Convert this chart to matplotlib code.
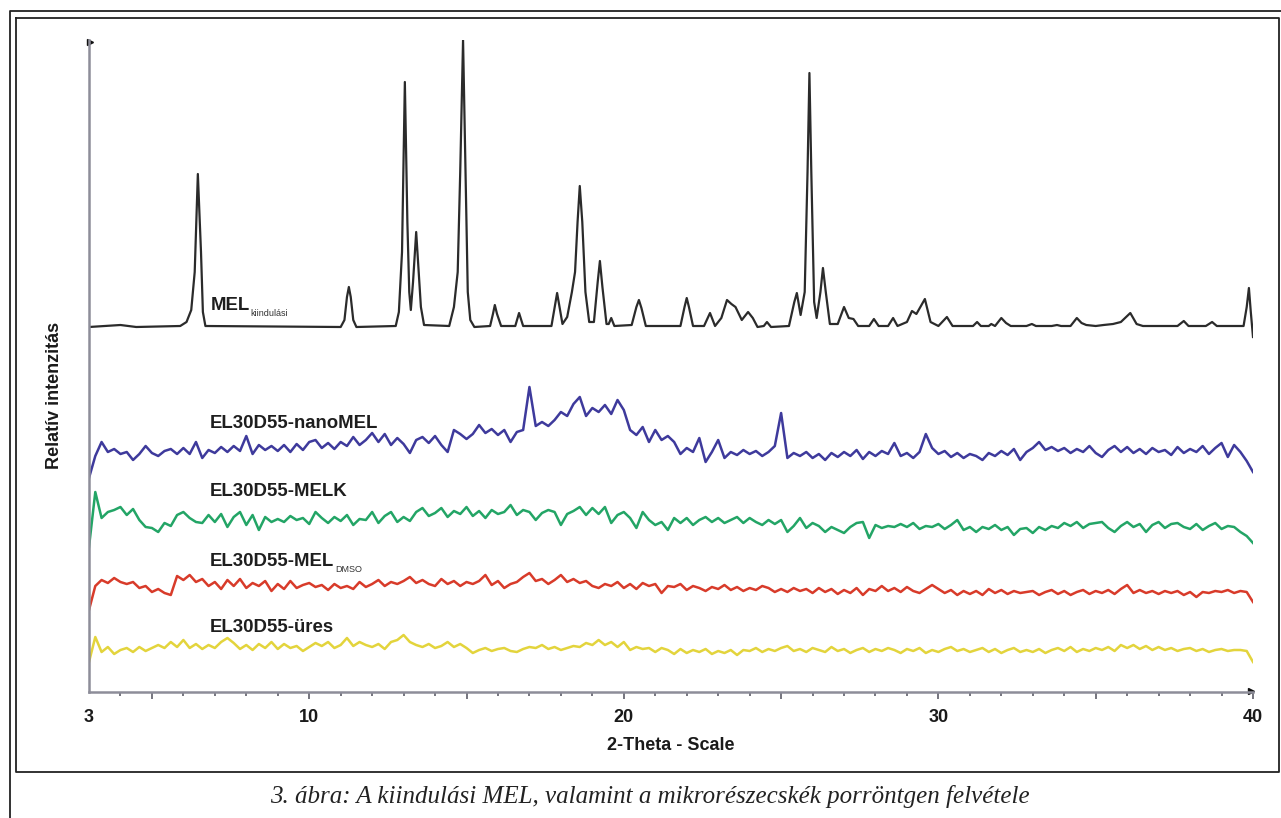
import numpy as np
import matplotlib
matplotlib.use("Agg")
import matplotlib.pyplot as plt
from matplotlib.lines import Line2D

# ---------------- data ----------------
# MEL (kiindulási) pattern: break points (2-theta, intensity)
mel_x = [3.0, 4.0, 4.5, 5.9, 6.1, 6.25, 6.36, 6.46, 6.56, 6.62, 6.7, 11.0, 11.12, 11.2, 11.26,
         11.32, 11.4, 11.5,
         12.75, 12.85, 12.95, 13.04, 13.12, 13.18, 13.23, 13.30, 13.40, 13.48, 13.55, 13.65,
         14.45, 14.6, 14.72, 14.8, 14.89, 14.97, 15.04, 15.12, 15.25, 15.75, 15.84, 15.9, 15.97,
         16.1, 16.55, 16.67, 16.8, 17.7, 17.82, 17.88, 17.95, 18.05,
         18.2, 18.35, 18.45, 18.53, 18.6, 18.68, 18.78, 18.9, 19.05, 19.17, 19.24, 19.32, 19.45,
         19.52, 19.6, 19.7, 20.25, 20.4,
         20.48, 20.56, 20.7, 21.8, 21.93, 22.0, 22.07, 22.2, 22.55, 22.74, 22.9, 23.1, 23.28, 23.42,
         23.55, 23.75, 23.95, 24.1, 24.25, 24.45, 24.55, 24.68, 25.25, 25.42, 25.5, 25.62, 25.75,
         25.84, 25.9, 25.96, 26.05, 26.13, 26.25,
         26.33, 26.42, 26.55, 26.8, 27.0, 27.15, 27.3, 27.45, 27.8, 27.95, 28.1, 28.4, 28.56, 28.7,
         29.0, 29.16, 29.3, 29.57, 29.75, 30.0, 30.27, 30.45, 31.1, 31.23, 31.35, 31.6, 31.68,
         31.8, 32.0, 32.15, 32.3, 32.8, 32.97, 33.1, 33.6, 33.77, 33.9, 34.2, 34.4, 34.55, 34.7,
         35.0, 35.25, 35.55, 35.8, 36.1, 36.3, 36.5, 37.6, 37.8, 37.95, 38.5, 38.7, 38.85, 39.7,
         39.8, 39.87, 39.93, 40.0]
mel_y = [365, 367, 365, 366, 370, 382, 420, 518, 440, 380, 366, 365, 372, 395, 405,
         395, 372, 365,
         366, 380, 440, 610, 470, 400, 382, 410, 460, 420, 385, 367,
         366, 385, 420, 520, 652, 520, 400, 372, 365, 366, 378, 387, 378,
         366, 366, 379, 366, 366, 388, 399, 386, 368,
         375, 400, 420, 470, 506, 470, 400, 370, 370, 410, 431, 405, 368,
         368, 374, 366, 367, 385,
         392, 384, 366, 366, 385, 394, 385, 366, 366, 379, 366, 374, 392, 388,
         385, 372, 380, 374, 365, 366, 370, 365, 366, 390, 399, 377, 400,
         520, 619, 520, 390, 374, 400,
         424, 400, 368, 368, 385, 374, 373, 366, 366, 373, 366, 366, 374, 366,
         370, 381, 378, 393, 370, 366, 375, 366, 366, 370, 366, 366, 368,
         366, 374, 369, 366, 366, 368, 366, 366, 367, 366, 366, 374, 369, 367,
         366, 367, 368, 370, 379, 368, 366, 366, 371, 366, 366, 370, 366, 366,
         385, 404, 380, 355]

# Noisy traces, sampled every 0.2 degree from 3.0 to 40.0
nano_mel = [214, 236, 250, 240, 243, 238, 240, 232, 238, 246,
            239, 236, 241, 243, 238, 244, 238, 250, 234, 242,
            239, 245, 240, 246, 241, 256, 238, 247, 242, 246,
            241, 247, 240, 248, 242, 250, 252, 244, 249, 243,
            250, 246, 255, 247, 252, 259, 250, 258, 247, 254,
            248, 239, 252, 255, 249, 256, 247, 240, 262, 258,
            253, 258, 267, 259, 263, 257, 262, 250, 260, 262,
            305, 266, 270, 266, 272, 280, 276, 288, 295, 276,
            284, 280, 287, 278, 292, 282, 262, 257, 265, 250,
            262, 252, 256, 250, 238, 244, 240, 254, 230, 240,
            252, 234, 240, 237, 242, 238, 241, 236, 240, 246,
            279, 234, 239, 236, 240, 234, 238, 232, 239, 235,
            240, 236, 242, 233, 240, 236, 241, 238, 249, 236,
            239, 234, 240, 258, 244, 238, 241, 235, 239, 234,
            238, 236, 232, 239, 236, 241, 237, 243, 232, 240,
            244, 250, 242, 245, 241, 244, 239, 243, 240, 246,
            239, 235, 242, 246, 240, 245, 239, 243, 238, 244,
            240, 242, 237, 245, 239, 243, 240, 246, 238, 244,
            249, 235, 247, 240, 231, 220]

melk = [145, 200, 174, 180, 182, 185, 177, 183, 172, 165,
        164, 160, 169, 166, 177, 180, 174, 170, 169, 177,
        170, 178, 165, 175, 180, 167, 177, 162, 175, 170,
        173, 170, 176, 172, 174, 168, 180, 174, 169, 175,
        171, 177, 167, 173, 172, 180, 169, 176, 180, 170,
        175, 171, 180, 184, 176, 179, 184, 175, 181, 178,
        185, 176, 181, 174, 182, 178, 180, 187, 177, 182,
        180, 172, 179, 182, 180, 167, 178, 181, 185, 177,
        184, 178, 185, 169, 177, 180, 174, 164, 180, 172,
        167, 170, 162, 174, 169, 174, 167, 172, 175, 170,
        174, 169, 172, 175, 169, 174, 170, 167, 172, 168,
        172, 160, 166, 174, 164, 169, 166, 160, 165, 162,
        159, 165, 169, 170, 154, 167, 164, 166, 165, 168,
        165, 169, 163, 166, 165, 168, 163, 167, 172, 162,
        165, 160, 165, 163, 167, 162, 165, 157, 163, 164,
        159, 165, 162, 166, 164, 169, 166, 170, 164, 168,
        169, 170, 164, 160, 166, 170, 165, 168, 160, 167,
        170, 164, 168, 169, 165, 163, 168, 162, 166, 169,
        163, 166, 165, 160, 156, 149]

mel_dmso = [82, 106, 112, 109, 114, 110, 108, 110, 104, 106,
            100, 103, 99, 97, 116, 112, 117, 110, 113, 106,
            110, 103, 112, 106, 113, 104, 109, 106, 111, 101,
            108, 103, 111, 104, 107, 109, 105, 107, 102, 108,
            104, 106, 103, 110, 105, 108, 112, 106, 110, 108,
            111, 115, 109, 112, 108, 106, 113, 108, 111, 106,
            110, 108, 111, 117, 107, 111, 104, 108, 110, 115,
            119, 111, 113, 108, 112, 117, 110, 113, 109, 111,
            106, 104, 108, 106, 110, 104, 108, 103, 109, 106,
            108, 99, 106, 105, 108, 102, 106, 104, 101, 105,
            103, 107, 102, 105, 101, 104, 102, 106, 104, 100,
            103, 100, 104, 101, 103, 99, 104, 100, 103, 98,
            102, 99, 104, 97, 103, 101, 106, 101, 104, 100,
            105, 101, 99, 103, 107, 103, 99, 102, 97, 101,
            98, 101, 97, 103, 99, 102, 98, 101, 99, 100,
            101, 97, 100, 102, 98, 101, 97, 100, 102, 98,
            101, 99, 102, 98, 103, 107, 99, 102, 99, 101,
            98, 101, 99, 101, 97, 100, 95, 100, 99, 101,
            100, 102, 99, 101, 100, 90]

ures = [30, 55, 40, 45, 38, 42, 44, 40, 45, 41,
        44, 47, 44, 50, 45, 52, 44, 48, 43, 47,
        44, 50, 54, 49, 43, 47, 42, 48, 44, 50,
        43, 48, 44, 46, 41, 45, 49, 46, 50, 44,
        47, 54, 46, 50, 47, 45, 48, 43, 50, 52,
        57, 50, 47, 45, 48, 44, 46, 50, 45, 48,
        44, 39, 42, 44, 41, 43, 44, 41, 40, 43,
        45, 44, 47, 43, 45, 42, 44, 46, 45, 49,
        47, 52, 47, 50, 45, 50, 42, 45, 43, 44,
        40, 44, 42, 38, 43, 39, 42, 40, 43, 38,
        41, 39, 42, 37, 42, 41, 44, 40, 43, 41,
        44, 46, 41, 43, 40, 44, 42, 40, 45, 41,
        43, 39, 42, 44, 40, 43, 41, 44, 42, 39,
        43, 41, 44, 39, 42, 40, 43, 45, 41, 43,
        40, 42, 44, 40, 43, 39, 42, 44, 40, 42,
        40, 43, 39, 42, 44, 41, 45, 40, 43, 41,
        44, 42, 45, 41, 47, 44, 47, 43, 46, 42,
        45, 42, 44, 41, 43, 44, 41, 43, 40, 42,
        43, 41, 42, 42, 41, 30]

x_labels = ["3", "10", "20", "30", "40"]
x_label_pos = [3, 10, 20, 30, 40]

# ---------------- figure ----------------
W, H = 1281, 818
fig = plt.figure(figsize=(W / 100, H / 100), dpi=100)
fig.patch.set_facecolor("white")

def fx(px):
    return px / W

def fy(py):
    return 1 - py / H

ax = fig.add_axes([fx(89), fy(692), fx(1253) - fx(89), fy(40) - fy(692)])
ax.set_xlim(3, 40)
ax.set_ylim(0, 652)

lw = 1.8
ax.plot(mel_x, mel_y, color="#2b2b2b", lw=1.6, solid_joinstyle="round")
ax.plot(np.linspace(3, 40, len(nano_mel)), nano_mel, color="#3e3a9c", lw=lw)
ax.plot(np.linspace(3, 40, len(melk)), melk, color="#23a566", lw=lw)
ax.plot(np.linspace(3, 40, len(mel_dmso)), mel_dmso, color="#d83b2a", lw=lw)
ax.plot(np.linspace(3, 40, len(ures)), ures, color="#e3d43c", lw=lw)

for s in ["top", "right"]:
    ax.spines[s].set_visible(False)
axis_col = "#8d8d99"
for s in ["left", "bottom"]:
    ax.spines[s].set_color(axis_col)
    ax.spines[s].set_linewidth(1.8)

ax.set_yticks([])
ax.set_xticks(range(5, 41, 5))
ax.set_xticks(range(4, 40), minor=True)
ax.set_xticklabels([])
ax.tick_params(axis="x", which="major", direction="out", length=5, width=1.3, color="#6a6a74")
ax.tick_params(axis="x", which="minor", direction="out", length=3, width=1.3, color="#6a6a74")

tf = ax.get_xaxis_transform()
for lab, pos in zip(x_labels, x_label_pos):
    ax.text(pos, -26 / 652, lab, transform=tf, ha="center", va="center",
            fontsize=13, fontweight="bold", family="Liberation Sans", color="#1a1a1a")

# axis arrow heads
ax.plot([3.02], [650], marker=">", markersize=4, color="#111111", clip_on=False)
ax.plot([39.95], [1.5], marker=">", markersize=4, color="#111111", clip_on=False)

# trace labels
lab_kw = dict(fontsize=13.4, fontweight="bold", family="Liberation Sans", color="#1e1e1e",
              ha="left", va="center")
t_mel = ax.text(6.88, 387, "MEL", **lab_kw)
ax.text(6.85, 269, "EL30D55-nanoMEL", **lab_kw)
ax.text(6.85, 201, "EL30D55-MELK", **lab_kw)
t_dmso = ax.text(6.85, 130, "EL30D55-MEL", **lab_kw)
ax.text(6.85, 65, "EL30D55-üres", **lab_kw)

fig.canvas.draw()
r = fig.canvas.get_renderer()
for t, sub, dy in [(t_mel, "kiindulási", 8), (t_dmso, "DMSO", 7)]:
    bb = t.get_window_extent(r)
    fig.text((bb.x1 + 0.5) / W, ((bb.y0 + bb.y1) / 2 - dy) / H, sub, fontsize=6.5,
             family="Liberation Sans", color="#333333", ha="left", va="center")

# axis titles
fig.text(fx(55), fy(395), "Relatív intenzitás", rotation=90, ha="center", va="center",
         fontsize=13, fontweight="bold", family="Liberation Sans", color="#1a1a1a")
fig.text(fx(671), fy(746), "2-Theta - Scale", ha="center", va="center",
         fontsize=13, fontweight="bold", family="Liberation Sans", color="#1a1a1a")

# caption
fig.text(fx(650), fy(797), "3. ábra: A kiindulási MEL, valamint a mikrorészecskék porröntgen felvétele",
         ha="center", va="center", fontsize=18, style="italic", family="Liberation Serif",
         color="#222222")

# frames
def fline(xs, ys, lw_=1.4, col="#222222"):
    fig.add_artist(Line2D([fx(v) for v in xs], [fy(v) for v in ys], color=col, lw=lw_))

fline([10, 10, 1290], [830, 11, 11], lw_=1.3)
fline([16, 16, 1279, 1279, 16], [18, 772, 772, 18, 18], lw_=1.3)

fig.savefig("out.png", dpi=100, facecolor="white")
